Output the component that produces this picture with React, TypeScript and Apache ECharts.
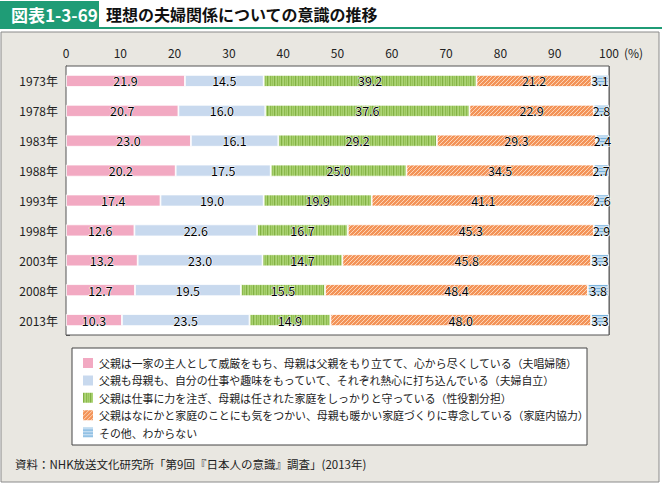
import React, { useEffect, useRef } from "react";
import * as echarts from "echarts";

const years = ["1973年", "1978年", "1983年", "1988年", "1993年", "1998年", "2003年", "2008年", "2013年"];
const seriesNames = [
  "父親は一家の主人として威厳をもち、母親は父親をもり立てて、心から尽くしている（夫唱婦随）",
  "父親も母親も、自分の仕事や趣味をもっていて、それぞれ熱心に打ち込んでいる（夫婦自立）",
  "父親は仕事に力を注ぎ、母親は任された家庭をしっかりと守っている（性役割分担）",
  "父親はなにかと家庭のことにも気をつかい、母親も暖かい家庭づくりに専念している（家庭内協力）",
  "その他、わからない",
];
const fushoFuzui = [21.9, 20.7, 23.0, 20.2, 17.4, 12.6, 13.2, 12.7, 10.3];
const fufuJiritsu = [14.5, 16.0, 16.1, 17.5, 19.0, 22.6, 23.0, 19.5, 23.5];
const seiYakuwari = [39.2, 37.6, 29.2, 25.0, 19.9, 16.7, 14.7, 15.5, 14.9];
const kateinaiKyoryoku = [21.2, 22.9, 29.3, 34.5, 41.1, 45.3, 45.8, 48.4, 48.0];
const sonota = [3.1, 2.8, 2.4, 2.7, 2.6, 2.9, 3.3, 3.8, 3.3];
const xTicks = [0, 10, 20, 30, 40, 50, 60, 70, 80, 90, 100];

const FONT = "'Noto Sans CJK JP', 'Noto Sans', sans-serif";

function makePattern(w: number, h: number, draw: (ctx: CanvasRenderingContext2D) => void) {
  const c = document.createElement("canvas");
  c.width = w;
  c.height = h;
  const ctx = c.getContext("2d")!;
  draw(ctx);
  return { image: c, repeat: "repeat" } as any;
}

export default function App() {
  const ref = useRef<HTMLDivElement>(null);
  useEffect(() => {
    if (!ref.current) return;
    const chart = echarts.init(ref.current, null, { renderer: "svg" });

    const greenPat = makePattern(7, 4, (ctx) => {
      const cols = ["#a9d272", "#82b044", "#a3cd69", "#acd377", "#8cba4d", "#a6cf6c", "#98c45b"];
      cols.forEach((c, i) => {
        ctx.fillStyle = c;
        ctx.fillRect(i, 0, 1, 4);
      });
    });
    const orangePat = makePattern(4, 4, (ctx) => {
      ctx.fillStyle = "#f39358";
      ctx.fillRect(0, 0, 4, 4);
      ctx.fillStyle = "#fcd3b5";
      for (let i = 0; i < 4; i++) ctx.fillRect(i, 3 - i, 1, 1);
    });
    const bluePat = makePattern(4, 3, (ctx) => {
      ctx.fillStyle = "#c2dcf1";
      ctx.fillRect(0, 0, 4, 3);
      ctx.fillStyle = "#74b0dc";
      ctx.fillRect(0, 0, 4, 1);
    });

    const colors: any[] = ["#f2a9c2", "#c8d9ee", greenPat, orangePat, bluePat];
    const dataSets = [fushoFuzui, fufuJiritsu, seiYakuwari, kateinaiKyoryoku, sonota];

    const series = dataSets.map((d, i) => ({
      name: seriesNames[i],
      type: "bar",
      stack: "total",
      barWidth: 12,
      data: d,
      itemStyle: { color: colors[i], borderColor: "#ffffff", borderWidth: 0.8 },
      label: {
        show: true,
        position: "inside",
        formatter: (p: any) => Number(p.value).toFixed(1),
        color: "#000000",
        fontFamily: FONT,
        fontSize: 12.5,
        textBorderColor: "#ffffff",
        textBorderWidth: 1,
      },
      emphasis: { disabled: true },
    }));

    chart.setOption({
      animation: false,
      backgroundColor: "#ffffff",
      textStyle: { fontFamily: FONT },
      grid: {
        left: 66,
        top: 66,
        width: 543,
        height: 269,
        show: true,
        backgroundColor: "#ffffff",
        borderColor: "#555555",
        borderWidth: 1,
        z: 1,
      },
      xAxis: {
        type: "value",
        position: "top",
        min: xTicks[0],
        max: xTicks[xTicks.length - 1],
        interval: 10,
        axisLine: { show: false },
        axisTick: { show: false },
        axisLabel: { color: "#222", fontSize: 12, fontFamily: FONT, margin: 8 },
        splitLine: { show: true, lineStyle: { color: "#8a8a8a", width: 1 } },
      },
      yAxis: {
        type: "category",
        data: years,
        inverse: true,
        axisLine: { show: true, lineStyle: { color: "#555555" } },
        axisTick: { show: true, inside: true, length: 4, lineStyle: { color: "#555555" } },
        axisLabel: { color: "#222", fontSize: 12, fontFamily: FONT, margin: 8 },
      },
      legend: {
        orient: "vertical",
        left: 81,
        top: 356,
        padding: 0,
        itemWidth: 12,
        itemHeight: 12,
        itemGap: 3.4,
        icon: "rect",
        selectedMode: false,
        textStyle: { color: "#222", fontSize: 10.9, fontFamily: FONT },
        data: seriesNames,
      },
      graphic: [
        { type: "rect", shape: { x: 1, y: 32, width: 658, height: 450 }, style: { fill: "#e9e7e1", stroke: "#8a8a8a", lineWidth: 1 }, z: -10, silent: true },
        { type: "rect", shape: { x: 0, y: 1, width: 99, height: 27 }, style: { fill: "#1f9c76" }, silent: true },
        { type: "rect", shape: { x: 0, y: 27, width: 662, height: 2 }, style: { fill: "#1f9c76" }, silent: true },
        { type: "text", x: 11, y: 14, style: { text: "図表1-3-69", fill: "#ffffff", font: "bold 17px " + FONT, textVerticalAlign: "middle" } as any, silent: true },
        { type: "text", x: 106, y: 14, style: { text: "理想の夫婦関係についての意識の推移", fill: "#111", font: "bold 16px " + FONT, textVerticalAlign: "middle" } as any, silent: true },
        { type: "text", x: 624, y: 52, style: { text: "(%)", fill: "#222", font: "12px " + FONT, textVerticalAlign: "middle" } as any, silent: true },
        { type: "rect", shape: { x: 72, y: 348, width: 515, height: 97 }, style: { fill: "#ffffff", stroke: "#444", lineWidth: 1 }, z: -5, silent: true },
        { type: "text", x: 15, y: 464, style: { text: "資料：NHK放送文化研究所「第9回『日本人の意識』調査」(2013年)", fill: "#222", font: "11.5px " + FONT, textVerticalAlign: "middle" } as any, silent: true },
      ],
      series,
    } as any);
    return () => chart.dispose();
  }, []);
  return <div ref={ref} style={{ position: "fixed", left: 0, top: 0, width: 662, height: 485 }} />;
}
